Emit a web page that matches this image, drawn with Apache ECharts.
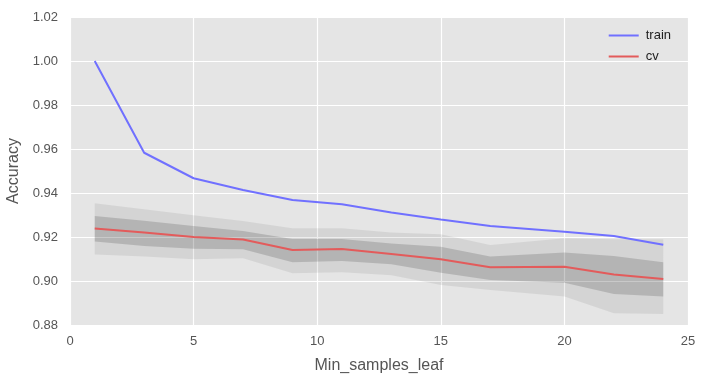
<!DOCTYPE html>
<html><head><meta charset="utf-8">
<script src="https://cdn.jsdelivr.net/npm/echarts@6/dist/echarts.min.js"></script>
<style>html,body{margin:0;padding:0;background:#fff}#c{width:706px;height:382px}</style>
</head><body><div id="c"></div>
<script>
const xs = [1, 3, 5, 7, 9, 11, 13, 15, 17, 20, 22, 24];
const train = [1.000, 0.9583, 0.9467, 0.9414, 0.9368, 0.9349, 0.9311, 0.928, 0.925, 0.9224, 0.9205, 0.9165];
const cv = [0.9239, 0.922, 0.920, 0.9189, 0.9141, 0.9145, 0.9123, 0.9099, 0.9062, 0.9065, 0.903, 0.9009];
const innerHi = [0.9295, 0.9274, 0.925, 0.9227, 0.9191, 0.9191, 0.9171, 0.9156, 0.9111, 0.9129, 0.9114, 0.9085];
const innerLo = [0.9179, 0.9159, 0.9147, 0.9144, 0.9085, 0.9091, 0.9076, 0.9038, 0.9005, 0.8992, 0.8941, 0.8929];
const outerHi = [0.9353, 0.9326, 0.9299, 0.9273, 0.924, 0.924, 0.922, 0.9212, 0.9164, 0.9194, 0.919, 0.919];
const outerLo = [0.9121, 0.9111, 0.9099, 0.9103, 0.9035, 0.904, 0.9026, 0.8982, 0.8959, 0.8929, 0.8853, 0.885];
const xTicks = [0, 5, 10, 15, 20, 25];
const yTicks = [0.88, 0.90, 0.92, 0.94, 0.96, 0.98, 1.00, 1.02];

const pair = (arr) => xs.map((x, i) => [x, arr[i]]);
const font = 'Liberation Sans, Arial, sans-serif';
const chart = echarts.init(document.getElementById('c'));

function band(name, hi, lo, color, z) {
  return {
    name, type: 'custom', silent: true, z,
    data: xs.map((x, i) => [x, lo[i], hi[i]]),
    encode: {x: 0, y: [1, 2]},
    renderItem: function (params, api) {
      if (params.dataIndex !== 0) return null;
      const upper = xs.map((x, i) => api.coord([x, hi[i]]));
      const lower = xs.map((x, i) => api.coord([x, lo[i]])).reverse();
      return {type: 'polygon', shape: {points: upper.concat(lower)}, style: {fill: color, stroke: null}};
    }
  };
}

chart.setOption({
  animation: false,
  backgroundColor: '#ffffff',
  grid: {left: 70, right: 18, top: 17, bottom: 57, show: true, backgroundColor: '#E5E5E5', borderWidth: 0,
         containLabel: false, outerBoundsMode: 'none'},
  legend: {
    data: ['train', 'cv'], orient: 'vertical', right: 30, top: 24,
    icon: 'rect', itemWidth: 30, itemHeight: 2, itemGap: 8,
    textStyle: {fontFamily: font, fontSize: 13, color: '#222', padding: [0, 0, 0, 2]}
  },
  xAxis: {
    type: 'value', min: xTicks[0], max: xTicks[xTicks.length - 1], interval: 5,
    name: 'Min_samples_leaf', nameLocation: 'middle', nameGap: 33,
    nameTextStyle: {fontFamily: font, fontSize: 16, color: '#555'},
    axisLine: {show: false}, axisTick: {show: false},
    axisLabel: {fontFamily: font, fontSize: 13, color: '#555', margin: 10},
    splitLine: {show: true, lineStyle: {color: '#fff', width: 1.2}}
  },
  yAxis: {
    type: 'value', min: yTicks[0], max: yTicks[yTicks.length - 1], interval: 0.02,
    name: 'Accuracy', nameLocation: 'middle', nameGap: 47, nameRotate: 90,
    nameTextStyle: {fontFamily: font, fontSize: 16, color: '#555'},
    axisLine: {show: false}, axisTick: {show: false},
    axisLabel: {fontFamily: font, fontSize: 13, color: '#555', margin: 12, formatter: v => v.toFixed(2)},
    splitLine: {show: true, lineStyle: {color: '#fff', width: 1.2}}
  },
  series: [
    band('outer', outerHi, outerLo, 'rgba(0,0,0,0.07)', 2),
    band('inner', innerHi, innerLo, 'rgba(0,0,0,0.15)', 3),
    {name: 'train', type: 'line', data: pair(train), symbol: 'none', lineStyle: {color: '#7070FF', width: 2}, itemStyle: {color: '#7070FF'}, z: 5},
    {name: 'cv', type: 'line', data: pair(cv), symbol: 'none', lineStyle: {color: '#E35B5B', width: 2}, itemStyle: {color: '#E35B5B'}, z: 5}
  ]
});
</script></body></html>
